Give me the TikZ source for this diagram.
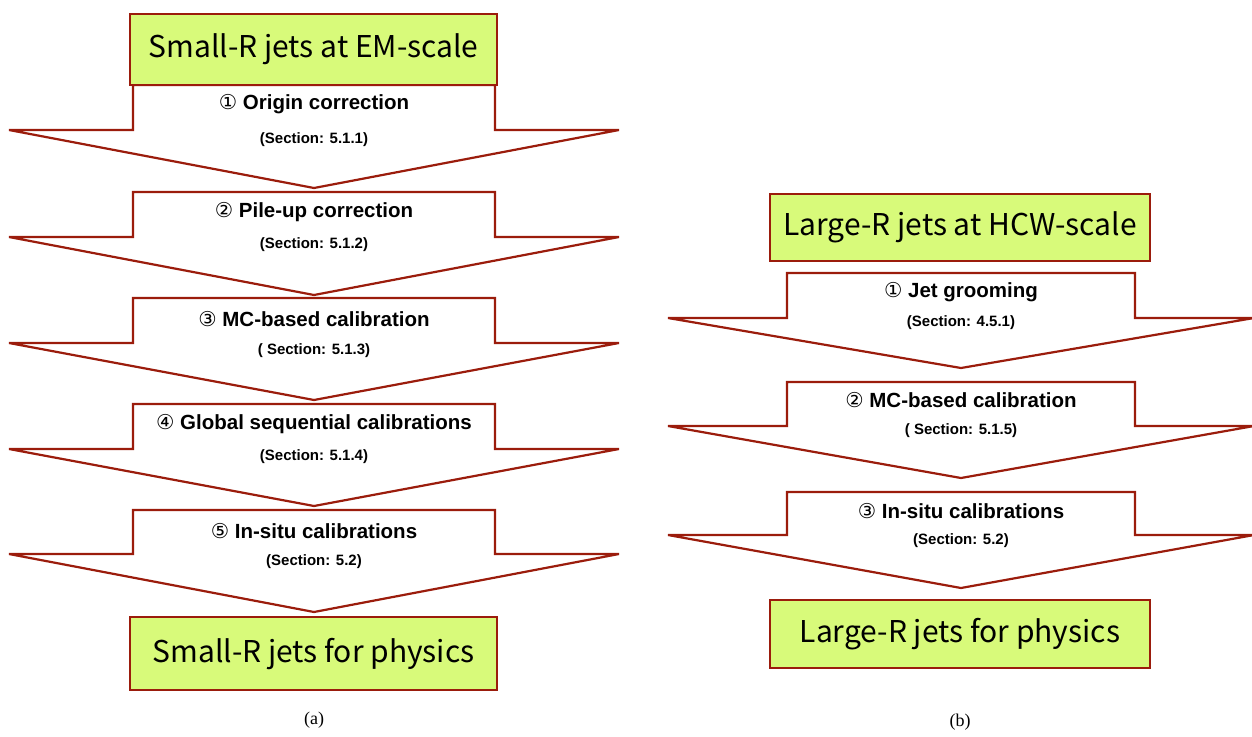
\documentclass[tikz,border=0pt]{standalone}
\usepackage{fontspec}
\setmainfont{Liberation Serif}
\newfontfamily\labelfont{Liberation Sans}
\newfontfamily\boxfont{Noto Sans CJK JP}
\newfontfamily\circfont{DejaVu Sans}
\usetikzlibrary{positioning}
\definecolor{jetred}{RGB}{155,28,12}
\definecolor{jetgreen}{RGB}{216,250,122}

% block arrow: centre x, top y, shaft half width, wing half width, shaft height, total height
\newcommand{\stagearrow}[6]{%
  \draw[stagearrow] (#1-#3,#2) -- (#1+#3,#2) -- (#1+#3,#2+#5) -- (#1+#4,#2+#5)
    -- (#1,#2+#6) -- (#1-#4,#2+#5) -- (#1-#3,#2+#5) -- cycle;}
\newcommand{\circnum}[1]{{\circfont\mdseries #1}}

\begin{document}
\begin{tikzpicture}[x=1pt, y=-1pt,
    jetbox/.style={rectangle, draw=jetred, fill=jetgreen, line width=2.2pt, minimum width=367pt, minimum height=71pt, inner sep=0pt, font=\boxfont\fontsize{30}{34}\selectfont},
    stagearrow/.style={draw=jetred, fill=white, line width=2.2pt, line join=miter},
    steplabel/.style={font=\labelfont\bfseries\fontsize{20.5}{24}\selectfont},
    seclabel/.style={font=\labelfont\bfseries\fontsize{15}{18}\selectfont},
    subcaption/.style={font=\fontsize{18}{21}\selectfont}
]
\useasboundingbox (0,0) rectangle (1252,736);

% (a) small-R chain
\stagearrow{314}{85}{181}{305}{45}{103}
\stagearrow{314}{192}{181}{305}{45}{103}
\stagearrow{314}{298}{181}{305}{45}{102}
\stagearrow{314}{404}{181}{305}{45}{102}
\stagearrow{314}{510}{181}{305}{44}{102}

\node[jetbox] (smallem) at (313.5,49.5) {Small-R jets at EM-scale};
\node[jetbox, minimum height=73pt] (smallphys) at (313.5,653.5) {Small-R jets for physics};

\node[steplabel] (origin) at (314,104) {\circnum{①} Origin correction};
\node[seclabel] (secorigin) at (314,140) {(Section: 5.1.1)};
\node[steplabel] (pileup) at (314,212) {\circnum{②} Pile-up correction};
\node[seclabel] (secpileup) at (314,245) {(Section: 5.1.2)};
\node[steplabel] (mcsmall) at (314,319) {\circnum{③} MC-based calibration};
\node[seclabel] (secmcsmall) at (314,351) {( Section: 5.1.3)};
\node[steplabel] (gsc) at (314,424) {\circnum{④} Global sequential calibrations};
\node[seclabel] (secgsc) at (314,457) {(Section: 5.1.4)};
\node[steplabel] (insitusmall) at (314,531) {\circnum{⑤} In-situ calibrations};
\node[seclabel] (secinsitusmall) at (314,562) {(Section: 5.2)};

\node[subcaption] (capa) at (314,720) {(a)};

% (b) large-R chain
\stagearrow{961}{273}{174}{293}{45}{95}
\stagearrow{961}{382}{174}{293}{44}{96}
\stagearrow{961}{492}{174}{293}{43}{96}

\node[jetbox, minimum width=380pt, minimum height=67pt] (largehcw) at (960,227.5) {Large-R jets at HCW-scale};
\node[jetbox, minimum width=380pt, minimum height=68pt] (largephys) at (960,634) {Large-R jets for physics};

\node[steplabel] (grooming) at (961,292) {\circnum{①} Jet grooming};
\node[seclabel] (secgrooming) at (961,323) {(Section: 4.5.1)};
\node[steplabel] (mclarge) at (961,400) {\circnum{②} MC-based calibration};
\node[seclabel] (secmclarge) at (961,431) {( Section: 5.1.5)};
\node[steplabel] (insitularge) at (961,511) {\circnum{③} In-situ calibrations};
\node[seclabel] (secinsitularge) at (961,541) {(Section: 5.2)};

\node[subcaption] (capb) at (960,722) {(b)};
\end{tikzpicture}
\end{document}
